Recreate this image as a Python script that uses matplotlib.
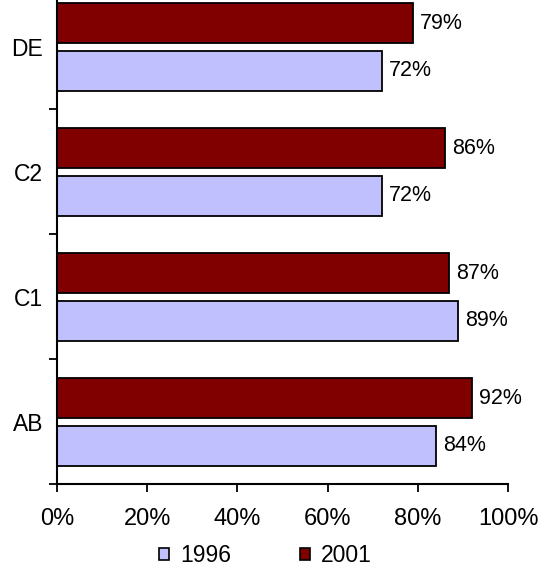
import matplotlib.pyplot as plt
import numpy as np
from matplotlib.patches import Patch

# share of respondents per group, two survey years
groups = ['AB', 'C1', 'C2', 'DE']
years = ['1996', '2001']
share_1996 = [84, 89, 72, 72]
share_2001 = [92, 87, 86, 79]
x_ticks = [0, 20, 40, 60, 80, 100]

colors = {'1996': '#C0C0FF', '2001': '#800000'}

plt.rcParams['font.family'] = ['Liberation Sans', 'DejaVu Sans']

fig = plt.figure(figsize=(5.42, 5.69), dpi=100)
ax = fig.add_axes([57 / 542, 1 - 484.3 / 569, 451 / 542, 484.3 / 569])

y = np.arange(len(groups))
h = 0.32
off = 0.19

ax.barh(y - off, share_1996, height=h, color=colors['1996'],
        edgecolor='black', linewidth=1.3)
ax.barh(y + off, share_2001, height=h, color=colors['2001'],
        edgecolor='black', linewidth=1.3)

# value labels just right of each bar
for yy, v in zip(y - off, share_1996):
    ax.annotate(f'{v}%', (v, yy), xytext=(5, 0), textcoords='offset points',
                ha='left', va='center', fontsize=15.5)
for yy, v in zip(y + off, share_2001):
    ax.annotate(f'{v}%', (v, yy), xytext=(5, 0), textcoords='offset points',
                ha='left', va='center', fontsize=15.5)

ax.set_xlim(0, 100)
ax.set_ylim(-0.5, -0.5 + 484.3 / 125)

ax.set_xticks(x_ticks)
ax.set_xticklabels([f'{t}%' for t in x_ticks], fontsize=17)
ax.tick_params(axis='x', direction='out', length=6, width=1.3, pad=11)

# group boundaries as major ticks, names as minor ticks
ax.set_yticks(np.arange(len(groups)) - 0.5)
ax.set_yticklabels([])
ax.tick_params(axis='y', which='major', direction='out', length=6, width=1.3)
ax.set_yticks(y, minor=True)
ax.set_yticklabels(groups, minor=True, fontsize=16.5)
ax.tick_params(axis='y', which='minor', length=0, pad=10)

for s in ['top', 'right']:
    ax.spines[s].set_visible(False)
for s in ['left', 'bottom']:
    ax.spines[s].set_linewidth(1.5)

handles = [Patch(facecolor=colors[yr], edgecolor='black', linewidth=1.2, label=yr)
           for yr in years]
fig.legend(handles=handles, loc='center', bbox_to_anchor=(0.49, 1 - 556 / 569),
           ncol=2, frameon=False, fontsize=16.5, handlelength=0.42,
           handleheight=0.42, handletextpad=0.5, columnspacing=3.0)

fig.savefig('out.png', dpi=100)
